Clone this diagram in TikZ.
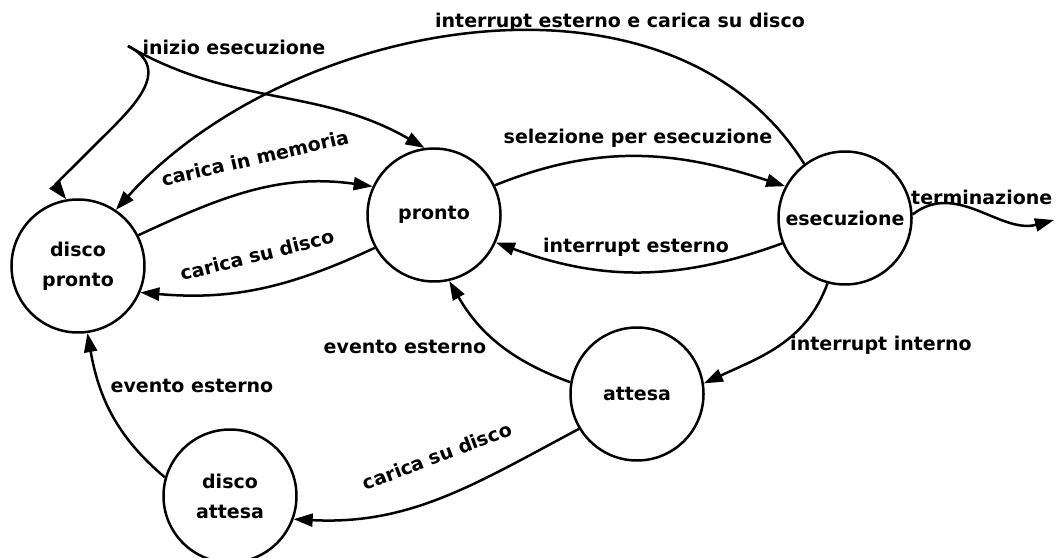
\documentclass[tikz,border=0pt]{standalone}
\usepackage{fontspec}
\setmainfont{DejaVu Sans}
\usetikzlibrary{arrows.meta}
\begin{document}
\begin{tikzpicture}[x=1pt,y=1pt,
  every node/.style={font=\fontsize{19}{30}\selectfont\bfseries},
  state/.style={circle,draw,line width=2.5pt,minimum size=133pt,inner sep=0pt,align=center},
  conn/.style={line width=2.5pt,-{Triangle[length=19pt,width=13pt]}},
  lbl/.style={inner sep=1pt}]
\useasboundingbox (0,0) rectangle (1056,557);
\node[state] (dp) at (78,291) {disco\\pronto};
\node[state] (p) at (434,342) {pronto};
\node[state] (e) at (845,339) {esecuzione};
\node[state] (a) at (637,163) {attesa};
\node[state] (da) at (230,61) {disco\\attesa};
\coordinate (s) at (128,511);
\coordinate (t) at (1054,337);
% inizio esecuzione
\draw[conn] (s) .. controls (175,487) and (130,447) .. (100,417)
  .. controls (65,382) and (55,372) .. (dp.100);
\draw[conn] (s) to[out=-30,in=150] (p.98);
\node[lbl] (l1) at (234,510) {inizio esecuzione};
% interrupt esterno e carica su disco
\draw[conn] (e.127) to[out=122,in=48,looseness=0.95] (dp.56);
\node[lbl] (l2) at (620,535) {interrupt esterno e carica su disco};
% carica in memoria
\draw[conn] (dp.27) to[out=25,in=172] (p.155);
\node[lbl,rotate=13] (l3) at (255,399) {carica in memoria};
% carica su disco
\draw[conn] (p.209) to[out=205,in=-5] (dp.-23);
\node[lbl,rotate=14] (l4) at (257,302) {carica su disco};
% selezione per esecuzione
\draw[conn] (p.26) to[out=22,in=162] (e.152);
\node[lbl] (l5) at (638,419) {selezione per esecuzione};
% interrupt esterno
\draw[conn] (e.202) to[out=200,in=-20] (p.-24);
\node[lbl] (l6) at (636,310) {interrupt esterno};
% terminazione
\draw[conn] (e.3) to[out=38,in=195] (t);
\node[lbl,anchor=west] (l7) at (910,360) {terminazione};
% interrupt interno
\draw[conn] (e.255) to[out=250,in=25] (a.9);
\node[lbl] (l8) at (881,212) {interrupt interno};
% evento esterno (attesa -> pronto)
\draw[conn] (a.170) to[out=160,in=300] (p.283);
\node[lbl] (l9) at (405,210) {evento esterno};
% carica su disco (attesa -> disco attesa)
\draw[conn] (a.211) to[out=208,in=-3] (da.-20);
\node[lbl,rotate=21] (l10) at (437,101) {carica su disco};
% evento esterno (disco attesa -> disco pronto)
\draw[conn] (da.164) to[out=140,in=280] (dp.278);
\node[lbl] (l11) at (192,171) {evento esterno};
\end{tikzpicture}
\end{document}
